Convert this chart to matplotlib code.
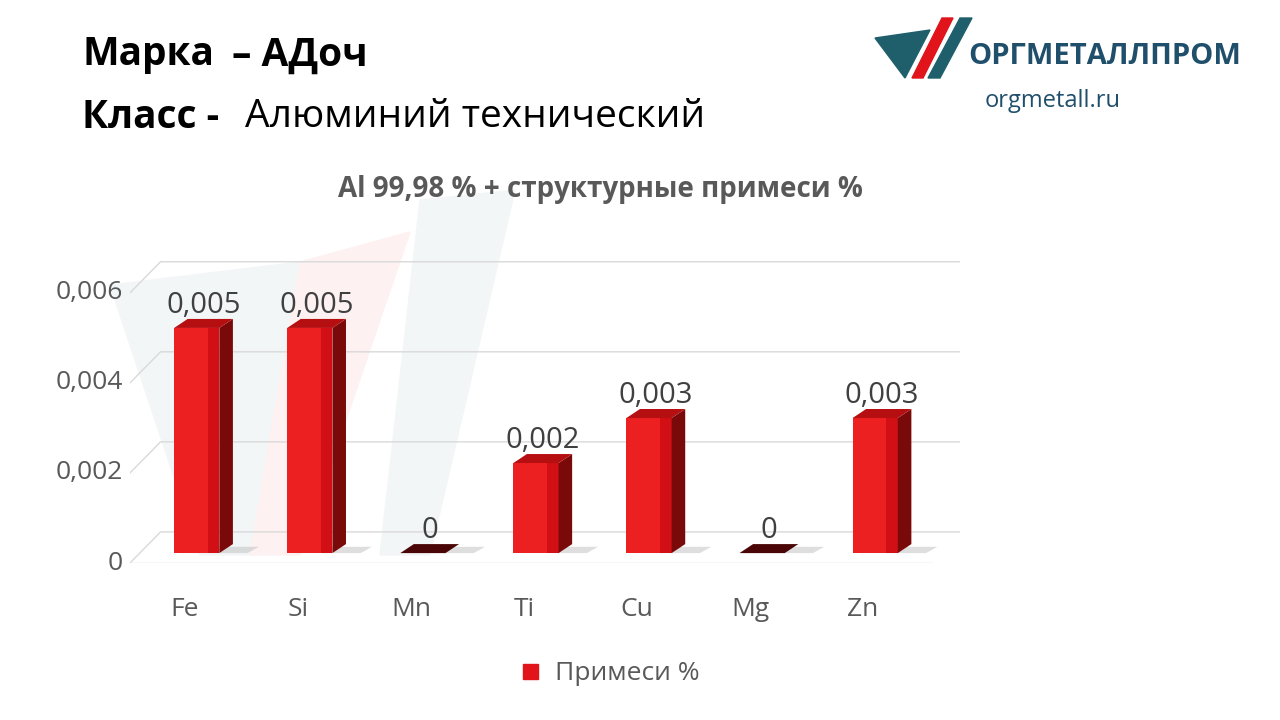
import matplotlib
matplotlib.use('Agg')
import matplotlib.pyplot as plt
from matplotlib.patches import Polygon
import numpy as np

plt.rcParams['font.family'] = ['Open Sans', 'DejaVu Sans']

elements = ['Fe', 'Si', 'Mn', 'Ti', 'Cu', 'Mg', 'Zn']
values = [0.005, 0.005, 0, 0.002, 0.003, 0, 0.003]
labels = ['0,005', '0,005', '0', '0,002', '0,003', '0', '0,003']
yticks = [0, 0.002, 0.004, 0.006]
ytick_labels = ['0', '0,002', '0,004', '0,006']

fig = plt.figure(figsize=(12.8, 7.2), dpi=100)
W, H = 1280, 720

# background layer: watermark and logo
lax = fig.add_axes([0, 0, 1, 1])
lax.set_xlim(0, W)
lax.set_ylim(H, 0)
lax.axis('off')
lax.add_patch(Polygon([(110, 285), (300, 262), (250, 555), (200, 555)], closed=True, color='#f3f6f7'))
lax.add_patch(Polygon([(300, 262), (410, 232), (300, 555), (250, 555)], closed=True, color='#fdf1f1'))
lax.add_patch(Polygon([(420, 200), (515, 190), (430, 555), (380, 555)], closed=True, color='#f3f6f7'))
lax.add_patch(Polygon([(875, 38), (930, 30), (905, 78)], closed=True, color='#1f5f6b'))
lax.add_patch(Polygon([(912, 78), (942, 18), (953, 18), (923, 78)], closed=True, color='#e0141a'))
lax.add_patch(Polygon([(928, 78), (960, 18), (972, 18), (940, 78)], closed=True, color='#1f5f6b'))
lax.add_patch(plt.Rectangle((523, 664), 15, 15, color='#e0141a'))

# axes: pixels 130..960 horizontally, 255..563 vertically
ax = fig.add_axes([130 / W, 1 - 563 / H, 830 / W, 308 / H])
ax.set_xlim(-0.59, 6.75)
ax.set_ylim(-0.00022, 0.00662)
ax.axis('off')

for v in yticks:
    ax.plot([-0.59, -0.32, 6.75], [v - 0.00022, v + 0.00047, v + 0.00047],
            color='#d9d9d9', lw=1, zorder=1)
ax.plot([-0.59, 6.5], [-0.00022, -0.00022], color='#d9d9d9', lw=1, zorder=1)

bw = 0.4
dx, dy = 0.12, 0.0002
for i, (v, lab) in enumerate(zip(values, labels)):
    x0, x1 = i - bw / 2, i + bw / 2
    ax.add_patch(Polygon([(x0 + 0.05, 0), (x1 + 0.25, 0), (x1 + 0.35, dy * 0.7), (x0 + 0.15, dy * 0.7)],
                         closed=True, color='#bfbfbf', alpha=0.5, lw=0, zorder=2))
    if v > 0:
        ax.bar(i, v, width=bw, bottom=0, color='#d10f14', zorder=3, lw=0)
        ax.bar(i - bw / 8, v, width=bw * 0.75, color='#ff2a2a', alpha=0.6, zorder=4, lw=0)
        ax.add_patch(Polygon([(x1, 0), (x1 + dx, dy), (x1 + dx, v + dy), (x1, v)],
                             closed=True, color='#7a0a0a', lw=0, zorder=3))
        ax.add_patch(Polygon([(x0, v), (x1, v), (x1 + dx, v + dy), (x0 + dx, v + dy)],
                             closed=True, color='#b50f12', lw=0, zorder=3))
    else:
        ax.add_patch(Polygon([(x0, 0), (x1, 0), (x1 + dx, dy), (x0 + dx, dy)],
                             closed=True, color='#4a0606', lw=0, zorder=3))
    ax.text(i + dx / 2, v + dy - 0.00002, lab, ha='center', va='bottom',
            fontsize=21, color='#404040', zorder=5)

for v, t in zip(yticks, ytick_labels):
    ax.text(-0.65, v - 0.00022, t, ha='right', va='center', fontsize=19, color='#595959')
for i, e in enumerate(elements):
    fig.text((185 + 113 * i) / W, 1 - 610 / H, e, ha='center', va='center',
             fontsize=19, color='#595959')

fig.text(82 / W, 1 - 55 / H, 'Марка', fontsize=28, fontweight='bold', va='center')
fig.text(232 / W, 1 - 55 / H, '– АДоч', fontsize=28, fontweight='bold', va='center')
fig.text(82 / W, 1 - 117 / H, 'Класс -', fontsize=28, fontweight='bold', va='center')
fig.text(245 / W, 1 - 117 / H, 'Алюминий технический', fontsize=28, va='center')
fig.text(600 / W, 1 - 190 / H, 'Al 99,98 % + структурные примеси %', fontsize=20,
         fontweight='bold', color='#595959', ha='center', va='center')
fig.text(968 / W, 1 - 57 / H, 'ОРГМЕТАЛЛПРОМ', fontsize=21, fontweight='bold', color='#1f4f6b', va='center')
fig.text(985 / W, 1 - 101 / H, 'orgmetall.ru', fontsize=17, color='#1f4f6b', va='center')
fig.text(555 / W, 1 - 673 / H, 'Примеси %', fontsize=19, color='#595959', va='center')

fig.savefig('out.png', dpi=100)
